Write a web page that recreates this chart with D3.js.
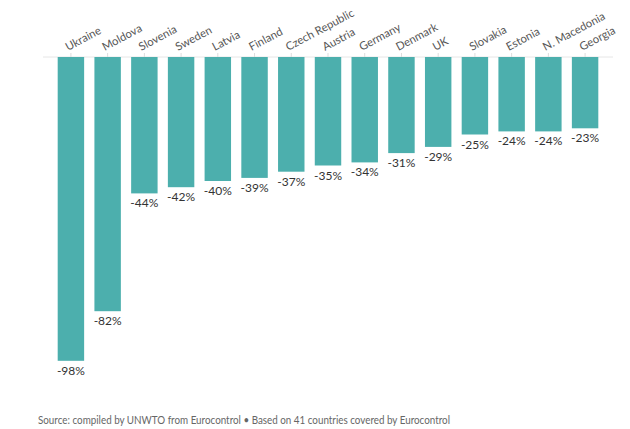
<!DOCTYPE html>
<html>
<head>
<meta charset="utf-8">
<script src="https://cdn.jsdelivr.net/npm/d3@7"></script>
<style>
  body { margin: 0; background: #fff; }
  text { font-family: Lato, "Noto Sans", sans-serif; }
</style>
</head>
<body>
<script>
var w = 630;
var h = 429;

var countries = ["Ukraine", "Moldova", "Slovenia", "Sweden", "Latvia", "Finland", "Czech Republic",
  "Austria", "Germany", "Denmark", "UK", "Slovakia", "Estonia", "N. Macedonia", "Georgia"];
var change = [-98, -82, -44, -42, -40, -39, -37, -35, -34, -31, -29, -25, -24, -24, -23];

var svg = d3.select("body")
    .append("svg")
    .attr("width", w)
    .attr("height", h);

var x = d3.scaleBand()
    .domain(countries)
    .range([43, 613])
    .paddingInner(0.28)
    .paddingOuter(0.4);

var y = d3.scaleLinear()
    .domain([0, -100])
    .range([57, 367]);

// baseline
svg.append("line")
    .attr("x1", 43)
    .attr("x2", 613)
    .attr("y1", y(0))
    .attr("y2", y(0))
    .attr("stroke", "#e6e6e6")
    .attr("stroke-width", 1);

svg.selectAll("rect.bar")
    .data(change)
    .enter()
    .append("rect")
    .attr("class", "bar")
    .attr("x", function(d, i) { return x(countries[i]); })
    .attr("y", y(0))
    .attr("width", x.bandwidth())
    .attr("height", function(d) { return y(d) - y(0); })
    .attr("fill", "#4cafad");

// small ticks
svg.selectAll("line.tick")
    .data(countries)
    .enter()
    .append("line")
    .attr("class", "tick")
    .attr("x1", function(d) { return x(d) + x.bandwidth() / 2; })
    .attr("x2", function(d) { return x(d) + x.bandwidth() / 2; })
    .attr("y1", y(0) - 4)
    .attr("y2", y(0))
    .attr("stroke", "#ddd");

svg.selectAll("text.cat")
    .data(countries)
    .enter()
    .append("text")
    .attr("class", "cat")
    .attr("transform", function(d) {
        return "translate(" + (x(d) + x.bandwidth() / 2 - 3) + "," + (y(0) - 6) + ") rotate(-28)";
    })
    .attr("font-size", "11.3px")
    .attr("fill", "#555")
    .text(function(d) { return d; });

svg.selectAll("text.val")
    .data(change)
    .enter()
    .append("text")
    .attr("class", "val")
    .attr("x", function(d, i) { return x(countries[i]) + x.bandwidth() / 2; })
    .attr("y", function(d) { return y(d) + 14; })
    .attr("text-anchor", "middle")
    .attr("font-size", "12px")
    .attr("fill", "#333")
    .text(function(d) { return d + "%"; });

svg.append("text")
    .attr("x", 38)
    .attr("y", 424)
    .attr("font-size", "11.5px")
    .attr("fill", "#666")
    .attr("textLength", 412)
    .attr("lengthAdjust", "spacingAndGlyphs")
    .text("Source: compiled by UNWTO from Eurocontrol \u2022 Based on 41 countries covered by Eurocontrol");
</script>
</body>
</html>
